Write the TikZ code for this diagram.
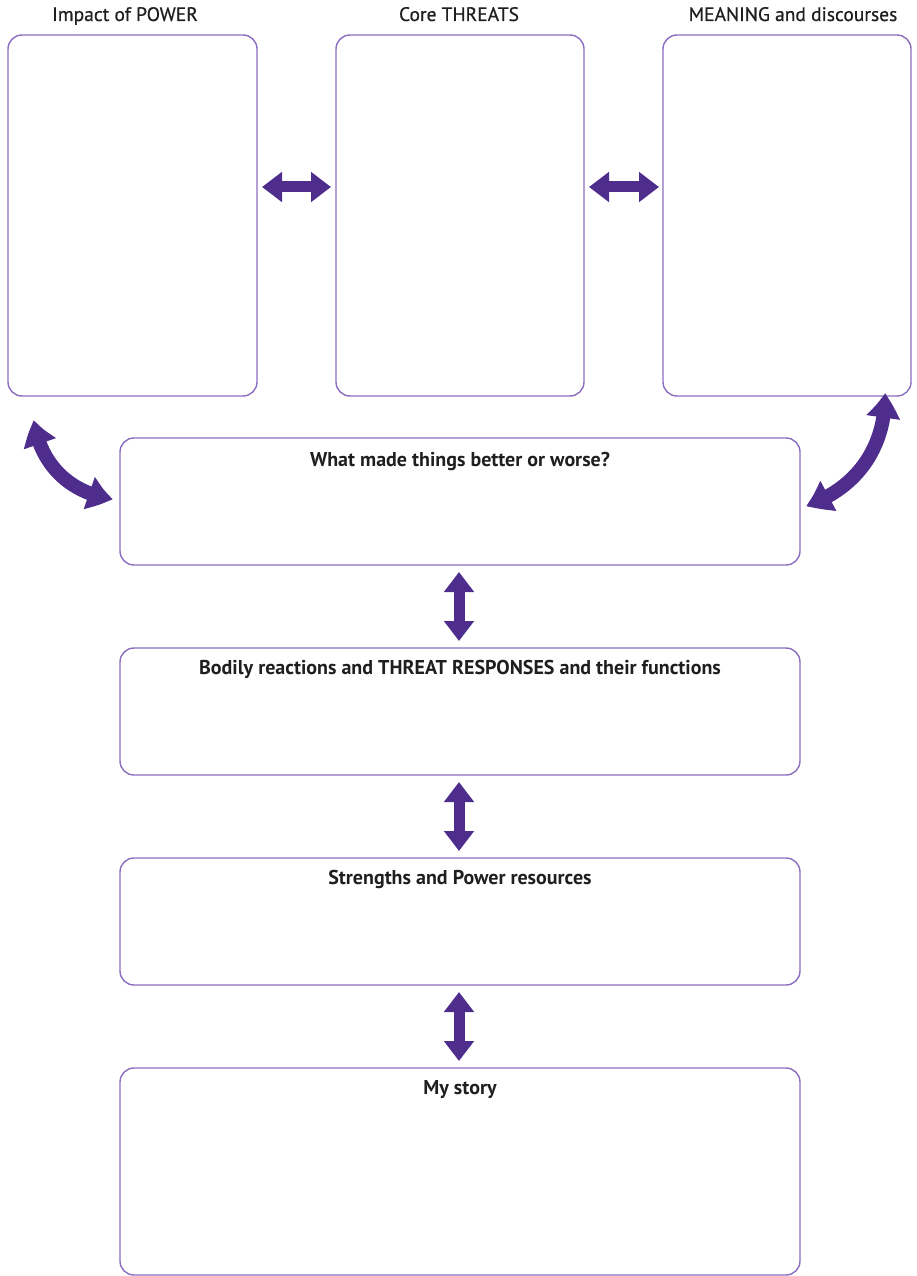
\documentclass[tikz,border=0pt]{standalone}
\usepackage{fontspec}
\setmainfont{PT Sans}
\newfontfamily\medfont[FakeBold=0.6]{PT Sans}
\usetikzlibrary{arrows.meta,bending}
\definecolor{boxline}{HTML}{8A6DC0}
\definecolor{arrowfill}{HTML}{4E2D8C}
\begin{document}
\begin{tikzpicture}[x=1pt,y=-1pt,
  panel/.style={draw=boxline,line width=1.4pt,rounded corners=14pt,inner sep=0pt},
  title/.style={font=\fontsize{19.5}{22}\medfont,text=black!88,anchor=base},
  btitle/.style={font=\fontsize{20}{22}\selectfont\bfseries,text=black!88,anchor=base},
  fat/.style={draw=arrowfill,line width=14pt,
    {Triangle[width=32pt,length=25pt,bend]}-{Triangle[width=32pt,length=25pt,bend]}},
  fats/.style={draw=arrowfill,line width=11pt,
    {Triangle[width=29pt,length=20pt]}-{Triangle[width=29pt,length=20pt]}}]
\useasboundingbox (0,0) rectangle (916,1276);
% top panels
\draw[panel] (8,35) rectangle (257,396);
\draw[panel] (336,35) rectangle (584,396);
\draw[panel] (663,35) rectangle (911,396);
\node[title] (ttl) at (125,21) {Impact of POWER};
\node[title] (ttm) at (459,21) {Core THREATS};
\node[title] (ttr) at (793,21) {MEANING and discourses};
% wide panels
\draw[panel] (120,438) rectangle (800,565);
\draw[panel] (120,648) rectangle (800,775);
\draw[panel] (120,858) rectangle (800,985);
\draw[panel] (120,1068) rectangle (800,1275);
\node[btitle] (b1) at (460,466) {What made things better or worse?};
\node[btitle] (b2) at (460,674) {Bodily reactions and THREAT RESPONSES and their functions};
\node[btitle] (b3) at (460,884) {Strengths and Power resources};
\node[btitle] (b4) at (460,1094) {My story};
% anchor points for connectors
\coordinate (h1a) at (262,187);
\coordinate (h1b) at (331,187);
\coordinate (h2a) at (589,187);
\coordinate (h2b) at (659,187);
\coordinate (v1a) at (459,572);
\coordinate (v1b) at (459,641);
\coordinate (v2a) at (459,782);
\coordinate (v2b) at (459,851);
\coordinate (v3a) at (459,992);
\coordinate (v3b) at (459,1061);
\coordinate (cl1) at (34,420);
\coordinate (cl2) at (113,499);
\coordinate (cr1) at (885,393);
\coordinate (cr2) at (806,506);
% arrows
\draw[fats] (h1a) -- (h1b);
\draw[fats] (h2a) -- (h2b);
\draw[fats] (v1a) -- (v1b);
\draw[fats] (v2a) -- (v2b);
\draw[fats] (v3a) -- (v3b);
\draw[fat] (cl1) to[bend right=38] (cl2);
\draw[fat] (cr1) to[bend left=36] (cr2);
\end{tikzpicture}
\end{document}
